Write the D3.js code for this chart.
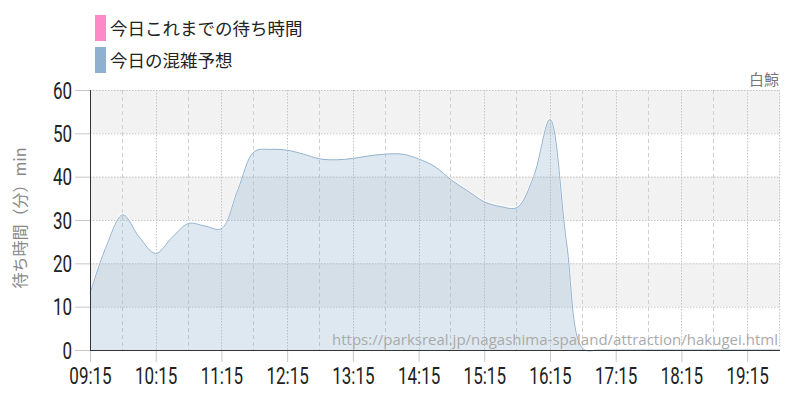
<!DOCTYPE html>
<html>
<head>
<meta charset="utf-8">
<script src="https://cdn.jsdelivr.net/npm/d3@7"></script>
<style>
  body { margin: 0; background: #fff; }
  svg { display: block; }
</style>
</head>
<body>
<div id="chart"></div>
<script>
/**
 * DATA
 * */
const times = [
  "09:15", "09:30", "09:45", "10:00", "10:15", "10:30", "10:45", "11:00",
  "11:15", "11:30", "11:45", "12:00", "12:15", "12:30", "12:45", "13:00",
  "13:15", "13:30", "13:45", "14:00", "14:15", "14:30", "14:45", "15:00",
  "15:15", "15:30", "15:45", "16:00", "16:15", "16:30", "16:45", "17:00",
  "17:15", "17:30", "17:45", "18:00", "18:15", "18:30", "18:45", "19:00",
  "19:15", "19:30", "19:45"
];
// 今日の混雑予想 (min)
const forecast = [
  13, 24, 31.2, 26, 22.3, 26, 29.2, 28.6,
  28, 37, 45.8, 46.3, 46.1, 45.2, 44.1, 43.9,
  44.2, 44.8, 45.2, 45.2, 44.1, 42.3, 39.2, 36.7,
  34.2, 33.1, 32.9, 40, 53.2, 25, 0.3, 0,
  0, 0, 0, 0, 0, 0, 0, 0,
  0, 0, 0
];
const tickLabels = ["09:15", "10:15", "11:15", "12:15", "13:15", "14:15",
  "15:15", "16:15", "17:15", "18:15", "19:15"];
const halfLines = ["09:45", "10:45", "11:45", "12:45", "13:45", "14:45",
  "15:45", "16:45", "17:45", "18:45", "19:45"];
const yTicks = [0, 10, 20, 30, 40, 50, 60];
const legendNames = ["今日これまでの待ち時間", "今日の混雑予想"];
const legendColors = ["#ff88c8", "#8fb0cf"];

/**
 * CONSTANTS
 * */
const width = 800,
  height = 400,
  margin = { top: 90, bottom: 50, left: 90, right: 20 };

const parse = d3.timeParse("%H:%M");
const jp = "'Noto Sans CJK JP', 'Noto Sans', sans-serif";
const numFont = "Roboto, sans-serif";
const squeeze = 0.74; // condensed look for the digits

const svg = d3.select("#chart")
  .append("svg")
  .attr("width", width)
  .attr("height", height);

const x = d3.scaleTime()
  .domain([parse("09:15"), parse("19:45")])
  .range([margin.left, width - margin.right]);

const y = d3.scaleLinear()
  .domain([0, 60])
  .range([height - margin.bottom, margin.top]);

// alternating bands
svg.append("g")
  .selectAll("rect")
  .data([10, 30, 50])
  .join("rect")
  .attr("x", margin.left)
  .attr("y", d => y(d + 10))
  .attr("width", x.range()[1] - x.range()[0])
  .attr("height", d => y(d) - y(d + 10))
  .attr("fill", "#f2f2f2");

// horizontal grid
svg.append("g")
  .selectAll("line")
  .data(yTicks.slice(1))
  .join("line")
  .attr("x1", margin.left)
  .attr("x2", width - margin.right)
  .attr("y1", d => y(d) + 0.5)
  .attr("y2", d => y(d) + 0.5)
  .attr("stroke", "#c4c4c4")
  .attr("stroke-dasharray", "1.5,1.5");

// vertical grid: hourly (dotted) and half (dashed)
svg.append("g")
  .selectAll("line")
  .data(tickLabels)
  .join("line")
  .attr("x1", d => Math.round(x(parse(d))) + 0.5)
  .attr("x2", d => Math.round(x(parse(d))) + 0.5)
  .attr("y1", y(60))
  .attr("y2", y(0))
  .attr("stroke", "#c4c4c4")
  .attr("stroke-dasharray", "1.5,1.5");

svg.append("g")
  .selectAll("line")
  .data(halfLines)
  .join("line")
  .attr("x1", d => Math.round(x(parse(d))) - 0.5)
  .attr("x2", d => Math.round(x(parse(d))) - 0.5)
  .attr("y1", y(60))
  .attr("y2", y(0))
  .attr("stroke", d => d === "19:45" ? "#c4c4c4" : "#d0d0d0")
  .attr("stroke-dasharray", d => d === "19:45" ? "1.5,1.5" : "4,3");

// area
const series = times.map((t, i) => ({ t: parse(t), v: forecast[i] }));
const curve = d3.curveCatmullRom.alpha(0.5);

const area = d3.area()
  .x(d => x(d.t))
  .y0(y(0))
  .y1(d => y(d.v))
  .curve(curve);

const line = d3.line()
  .x(d => x(d.t))
  .y(d => y(d.v))
  .curve(curve);

svg.append("path")
  .datum(series)
  .attr("d", area)
  .attr("fill", "#8fb0cf")
  .attr("fill-opacity", 0.29);

svg.append("path")
  .datum(series)
  .attr("d", line)
  .attr("fill", "none")
  .attr("stroke", "#ffffff")
  .attr("stroke-opacity", 0.6)
  .attr("stroke-width", 2)
  .attr("transform", "translate(0,-1)");

svg.append("path")
  .datum(series)
  .attr("d", line)
  .attr("fill", "none")
  .attr("stroke", "#92b2cf")
  .attr("stroke-width", 1);

// watermark
svg.append("text")
  .attr("x", 778)
  .attr("y", 345)
  .attr("text-anchor", "end")
  .attr("font-family", "'Open Sans', 'Noto Sans', sans-serif")
  .attr("font-size", 15)
  .attr("fill", "#aaaaaa")
  .attr("textLength", 446)
  .attr("lengthAdjust", "spacingAndGlyphs")
  .text("https://parksreal.jp/nagashima-spaland/attraction/hakugei.html");

// y axis
const yAxis = svg.append("g")
  .attr("transform", `translate(${margin.left},0)`)
  .call(d3.axisLeft(y).tickValues(yTicks).tickSize(15).tickPadding(3));
yAxis.select(".domain").remove();
yAxis.selectAll(".tick line").attr("stroke", "#c8c8c8");
yAxis.selectAll(".tick text")
  .attr("x", -18 / squeeze)
  .attr("transform", `scale(${squeeze},1)`)
  .attr("font-family", numFont)
  .attr("font-size", 23)
  .attr("fill", "#222")
  .attr("dy", "0.36em");

// x axis
const xAxis = svg.append("g")
  .attr("transform", `translate(0,${y(0)})`)
  .call(d3.axisBottom(x)
    .tickValues(tickLabels.map(parse))
    .tickFormat(d3.timeFormat("%H:%M"))
    .tickSize(12)
    .tickPadding(4));
xAxis.select(".domain").remove();
xAxis.selectAll(".tick line").attr("stroke", "#c8c8c8");
xAxis.selectAll(".tick text")
  .attr("transform", `scale(${squeeze},1)`)
  .attr("font-family", numFont)
  .attr("font-size", 23)
  .attr("fill", "#222")
  .attr("dy", "0.78em");

// axis lines
svg.append("line")
  .attr("x1", margin.left + 0.5).attr("x2", margin.left + 0.5)
  .attr("y1", y(60)).attr("y2", y(0) + 1)
  .attr("stroke", "#333");
svg.append("line")
  .attr("x1", margin.left).attr("x2", width - margin.right)
  .attr("y1", y(0) + 0.5).attr("y2", y(0) + 0.5)
  .attr("stroke", "#333");

// y title
svg.append("text")
  .attr("transform", `translate(26,218) rotate(-90)`)
  .attr("text-anchor", "middle")
  .attr("font-family", jp)
  .attr("font-size", 16)
  .attr("fill", "#888")
  .text("待ち時間（分）min");

// attraction name
svg.append("text")
  .attr("x", 779)
  .attr("y", 85)
  .attr("text-anchor", "end")
  .attr("font-family", jp)
  .attr("font-size", 15)
  .attr("fill", "#777")
  .text("白鯨");

// legend
const legend = svg.append("g")
  .selectAll("g")
  .data(legendNames)
  .join("g")
  .attr("transform", (d, i) => `translate(95,${15 + i * 32})`);

legend.append("rect")
  .attr("width", 11)
  .attr("height", 26)
  .attr("fill", (d, i) => legendColors[i]);

legend.append("text")
  .attr("x", 15)
  .attr("y", 20)
  .attr("font-family", jp)
  .attr("font-size", 17.5)
  .attr("fill", "#222")
  .text(d => d);
</script>
</body>
</html>
